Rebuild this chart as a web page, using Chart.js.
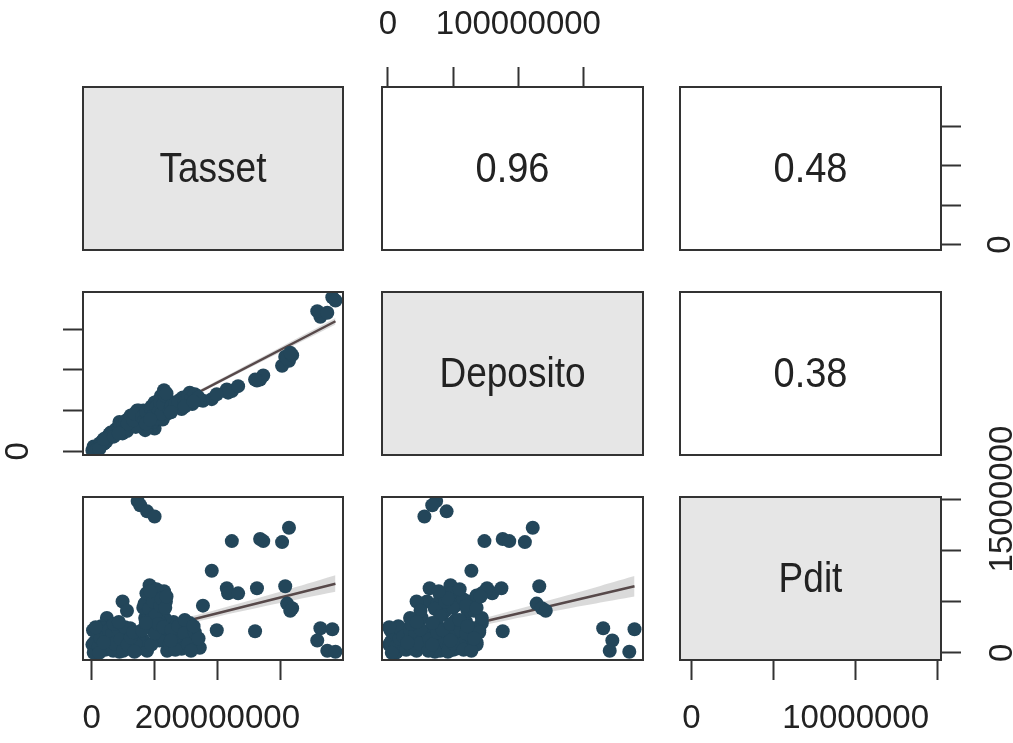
<!DOCTYPE html>
<html>
<head>
<meta charset="utf-8">
<script src="https://cdn.jsdelivr.net/npm/chart.js@4.4.1/dist/chart.umd.min.js"></script>
<style>
  html, body { margin: 0; padding: 0; background: #fff; }
  #wrap { position: relative; width: 1013px; height: 743px; }
  #wrap canvas { position: absolute; left: 0; top: 0; }
</style>
</head>
<body>
<div id="wrap"></div>
<script>
// variable names on the diagonal
const varNames = ['Tasset', 'Deposito', 'Pdit'];
// correlations in the upper panels: (1,2), (1,3), (2,3)
const corrText = ['0.96', '0.48', '0.38'];

// observations (millions)
const tasset = [73, 77, 88, 100, 223, 268, 273, 303, 314, 191,
  215, 217, 233, 263, 308, 311, 319, 316, 260, 199,
  177, 364, 383, 359, 375, 388, 135, 151, 167, 140,
  156, 120, 120, 172, 145, 160, 130, 143, 96, 105,
  88, 108, 85, 97, 113, 118, 110, 115, 104, 112,
  116, 92, 100, 108, 113, 90, 82, 102, 49, 56,
  24, 2, 13, 1, 17, 40, 49, 61, 34, 72,
  88, 108, 81, 5, 8, 10, 20, 28, 45, 55,
  65, 30, 38, 60, 75, 95, 100, 3, 15, 25,
  70, 52, 44,
  4, 7, 11, 14, 18, 21, 23, 27, 31, 33,
  36, 42, 46, 50, 53, 57, 62, 66, 68, 6,
  12, 19, 35, 43,
  80, 84, 87, 91, 94, 98, 101, 103, 106, 109,
  111, 114, 117, 119, 86, 93,
  124, 127, 133, 138, 147, 153, 158, 164, 170, 126,
  148, 162];
const deposito = [37, 34, 45, 28, 74, 88, 93, 105, 111, 64,
  76, 72, 80, 87, 116, 114, 118, 121, 88, 70,
  62, 165, 189, 172, 170, 185, 55, 62, 68, 63,
  72, 52, 46, 63, 66, 58, 60, 52, 32, 40,
  30, 44, 26, 36, 55, 63, 68, 75, 61, 66,
  72, 48, 52, 51, 39, 42, 50, 58, 22, 25,
  17, 2, 10, 1, 12, 26, 33, 40, 22, 50,
  40, 56, 46, 4, 3, 7, 10, 21, 30, 38,
  43, 23, 27, 35, 50, 55, 60, 6, 8, 16,
  30, 28, 36,
  2, 5, 6, 9, 9, 14, 12, 17, 19, 21,
  24, 25, 32, 31, 36, 34, 44, 38, 46, 1,
  3, 15, 18, 22,
  42, 38, 48, 36, 52, 44, 40, 55, 48, 60,
  46, 58, 68, 71, 34, 39,
  50, 56, 58, 61, 60, 68, 64, 70, 66, 48,
  55, 61];
const pdit = [14.8, 14.4, 13.8, 13.3, 10.9, 11.1, 10.9, 10.8, 12.2, 8.0,
  6.3, 5.8, 5.8, 6.3, 6.5, 4.8, 4.35, 4.1, 2.1, 2.2,
  4.6, 2.4, 2.3, 1.2, 0.2, 0.1, 1.7, 1.5, 1.0, 0.7,
  2.9, 1.7, 0.2, 0.5, 2.4, 1.2, 3.0, 0.4, 6.3, 5.6,
  5.0, 4.1, 3.4, 2.6, 5.0, 5.0, 5.6, 6.0, 4.1, 4.1,
  3.4, 6.6, 4.6, 3.0, 2.2, 3.8, 4.4, 5.2, 5.0, 4.1,
  3.4, 2.2, 1.7, 0.8, 0.5, 1.7, 1.0, 2.4, 0.2, 0.3,
  0.2, 1.2, 1.3, 0.3, 1.2, 0.1, 2.0, 1.0, 0.6, 1.8,
  1.0, 2.6, 1.4, 0.4, 1.6, 0.8, 1.9, 0.0, 2.6, 1.2,
  0.9, 2.0, 0.1,
  1.0, 2.0, 0.6, 1.4, 2.4, 0.3, 1.6, 2.2, 0.4, 1.9,
  0.9, 2.3, 1.3, 0.2, 2.5, 0.8, 1.5, 2.0, 0.1, 2.5,
  0.0, 1.0, 2.8, 3.0,
  2.2, 4.8, 5.8, 4.3, 3.2, 5.0, 3.6, 6.2, 2.8, 4.6,
  5.3, 2.5, 4.4, 5.5, 2.9, 6.0,
  0.9, 2.2, 0.3, 2.6, 1.9, 0.8, 0.2, 2.0, 1.4, 1.2,
  3.2, 2.6];

// lm fits (millions)
const fitTD = { x: [1, 388], y: [4.8, 159.6] };
const fitTP = { x: [1, 388], y: [0.82, 6.74] };
const fitDP = { x: [1, 189], y: [0.88, 6.5] };
// confidence bands around the fits (millions)
const bandTD = { x: [1, 150, 388], lo: [2.1, 62.7, 155.7], hi: [7.5, 66.5, 163.5] };
const bandTP = { x: [1, 60, 120, 200, 300, 388], lo: [0.29, 1.34, 2.34, 3.53, 4.86, 5.96], hi: [1.39, 2.14, 2.98, 4.23, 5.96, 7.56] };
const bandDP = { x: [1, 40, 80, 130, 189], lo: [0.38, 1.70, 2.89, 4.14, 5.5], hi: [1.38, 2.40, 3.59, 5.34, 7.5] };

// axis ticks (millions) and the ones that get a label
const tassetTicks = [0, 100, 200, 300];
const depositoTicks = [0, 50, 100, 150];
const pditTicks = [0, 5, 10, 15];

const FONT = '"Liberation Sans", Arial, sans-serif';
const W = 1013, H = 743;
const cols = [[83, 343], [382, 643], [680, 941]];
const rows = [[87, 250], [292, 455], [497, 660]];
const ranges = [[-14, 400], [-4.5, 195.5], [-0.7, 15.2]];
const vars = [tasset, deposito, pdit];
const ticksOf = [tassetTicks, depositoTicks, pditTicks];
const axisSize = { top: 87, bottom: 83, left: 83, right: 72 };

const M = 1e6;
const pts = (xs, ys) => xs.map((x, i) => ({ x: x * M, y: ys[i] * M }));

function axis(v, position, shown, pad) {
  const isY = position === 'left' || position === 'right';
  return {
    type: 'linear', position: position, display: true,
    min: ranges[v][0] * M, max: ranges[v][1] * M,
    afterBuildTicks: s => { s.ticks = ticksOf[v].map(t => ({ value: t * M })); },
    afterFit: s => { if (isY) s.width = axisSize[position]; else s.height = axisSize[position]; },
    grid: { display: true, drawOnChartArea: false, drawTicks: true, tickLength: 20, tickColor: '#333', tickWidth: 2 },
    border: { display: false },
    ticks: {
      color: '#222', font: { family: FONT, size: 33 }, padding: pad,
      minRotation: isY ? 90 : 0, maxRotation: isY ? 90 : 0,
      crossAlign: isY ? 'center' : 'near', autoSkip: false,
      callback: val => shown.includes(Math.round(val / M)) ? String(val) : ''
    }
  };
}
function hidden(v) {
  return { type: 'linear', display: false, min: ranges[v][0] * M, max: ranges[v][1] * M };
}

const panelPlugin = {
  id: 'panel',
  beforeDraw(chart, args, o) {
    const a = chart.chartArea, ctx = chart.ctx;
    if (o.fill) { ctx.save(); ctx.fillStyle = o.fill; ctx.fillRect(a.left, a.top, a.width, a.height); ctx.restore(); }
  },
  afterDraw(chart, args, o) {
    const a = chart.chartArea, ctx = chart.ctx;
    ctx.save();
    if (o.text) {
      // the reference text is a bit taller than wide
      ctx.save();
      ctx.translate((a.left + a.right) / 2, (a.top + a.bottom) / 2 + 2);
      ctx.scale(1, 1.14);
      ctx.fillStyle = '#222';
      ctx.font = o.size + 'px ' + FONT;
      ctx.textAlign = 'center';
      ctx.textBaseline = 'middle';
      ctx.fillText(o.text, 0, 0);
      ctx.restore();
    }
    ctx.strokeStyle = '#333';
    ctx.lineWidth = 2;
    ctx.strokeRect(a.left, a.top, a.width, a.height);
    ctx.restore();
  }
};

function scatterSets(xv, yv, fit, band) {
  return [
    { data: pts(vars[xv], vars[yv]), backgroundColor: '#23465a', pointRadius: 7, pointBorderWidth: 0, showLine: false },
    { data: pts(fit.x, fit.y), showLine: true, borderColor: '#57494a', borderWidth: 2.5, pointRadius: 0 },
    { data: pts(band.x, band.hi), showLine: true, borderColor: 'transparent', pointRadius: 0, tension: 0.4,
      fill: '+1', backgroundColor: 'rgba(205,205,205,0.75)' },
    { data: pts(band.x, band.lo), showLine: true, borderColor: 'transparent', pointRadius: 0, tension: 0.4 }
  ];
}

function panel(r, c, cfg) {
  const cv = document.createElement('canvas');
  cv.width = W; cv.height = H;
  document.getElementById('wrap').appendChild(cv);
  const ax = cfg.axes || {};
  const scales = {
    x: ax.top ? axis(c, 'top', ax.top, 22) : ax.bottom ? axis(c, 'bottom', ax.bottom, 19) : hidden(c),
    y: ax.left ? axis(r, 'left', ax.left, 35) : ax.right ? axis(r, 'right', ax.right, ax.rightPad) : hidden(r)
  };
  const padding = {
    left: cols[c][0] - (ax.left ? axisSize.left : 0),
    right: W - cols[c][1] - (ax.right ? axisSize.right : 0),
    top: rows[r][0] - (ax.top ? axisSize.top : 0),
    bottom: H - rows[r][1] - (ax.bottom ? axisSize.bottom : 0)
  };
  new Chart(cv, {
    type: 'scatter',
    data: { datasets: cfg.datasets || [] },
    options: {
      responsive: false, animation: false, devicePixelRatio: 1,
      layout: { padding: padding },
      scales: scales,
      plugins: {
        legend: { display: false }, tooltip: { enabled: false },
        panel: { fill: cfg.fill, text: cfg.text, size: cfg.size }
      }
    },
    plugins: [panelPlugin]
  });
}

// diagonal
panel(0, 0, { fill: '#e6e6e6', text: varNames[0], size: 37 });
panel(1, 1, { fill: '#e6e6e6', text: varNames[1], size: 37 });
panel(2, 2, { fill: '#e6e6e6', text: varNames[2], size: 37,
  axes: { bottom: [0, 10], right: [0, 15], rightPad: -32 } });
// upper: correlations
panel(0, 1, { text: corrText[0], size: 38, axes: { top: [0, 100] } });
panel(0, 2, { text: corrText[1], size: 38, axes: { right: [0], rightPad: 31 } });
panel(1, 2, { text: corrText[2], size: 38 });
// lower: scatter with lm fit
panel(1, 0, { datasets: scatterSets(0, 1, fitTD, bandTD), axes: { left: [0] } });
panel(2, 0, { datasets: scatterSets(0, 2, fitTP, bandTP), axes: { bottom: [0, 200] } });
panel(2, 1, { datasets: scatterSets(1, 2, fitDP, bandDP) });
</script>
</body>
</html>
